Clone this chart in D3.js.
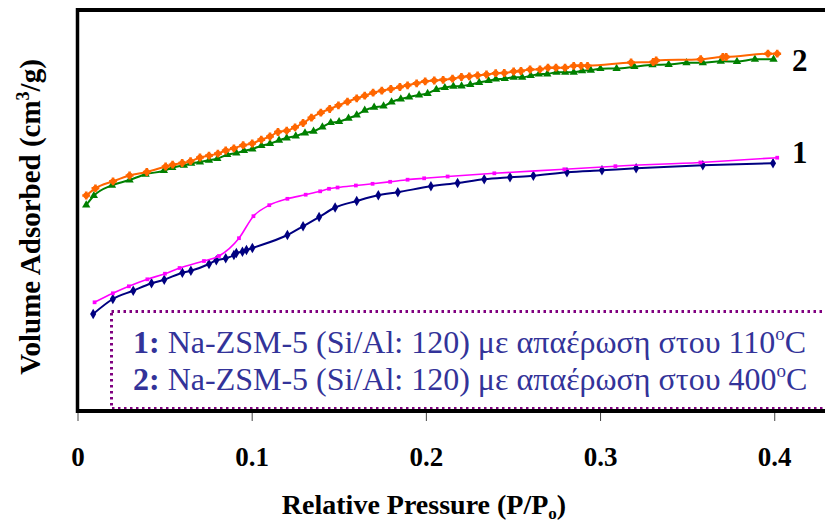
<!DOCTYPE html>
<html>
<head>
<meta charset="utf-8">
<script src="https://cdn.jsdelivr.net/npm/d3@7"></script>
<style>
  body { margin: 0; background: #fff; }
</style>
</head>
<body>
<div id="graph"></div>
<script>

// sample 1 (110 C) - adsorption branch
const pressureAds1 = [0.0090,0.0203,0.0320,0.0425,0.0498,0.0602,0.0651,0.0755,0.0797,0.0851,
  0.0898,0.0912,0.0947,0.0970,0.1004,0.1205,0.1295,0.1387,0.1479,0.1603,
  0.1727,0.1839,0.2029,0.2182,0.2335,0.2483,0.2617,0.2810,0.3011,0.3207,0.3590,0.3993];
const volumeAds1 = [96,111,119.3,126.7,130.3,137.3,139.3,146,149.7,151.7,
  155,157,158.3,160,162,175,183.7,193,202.5,209,
  214.7,217.8,223.7,227,230.7,232.7,234.3,237.7,239.7,241.7,244.7,246.7];

// sample 1 - desorption branch
const pressureDes1 = [0.0098,0.0203,0.0295,0.0401,0.0502,0.0586,0.0726,0.0812,0.0927,0.1010,
  0.1101,0.1205,0.1310,0.1393,0.1444,0.1493,0.1598,0.1694,0.1795,0.1895,
  0.1990,0.2125,0.2393,0.2795,0.3088,0.3576,0.4017];
const volumeDes1 = [107.7,116.7,123.7,130.7,136.3,142,149,154,171.8,193.8,
  204.8,211.2,215.3,218.7,221.2,222.5,224.5,226.2,228.2,230.3,
  231.7,233.5,236.7,240.7,243.8,247.5,252.3];

// sample 2 (400 C) - adsorption branch
const pressureAds2 = [0.0050,0.0094,0.0198,0.0299,0.0391,0.0496,0.0544,0.0611,0.0653,0.0703,
  0.0755,0.0803,0.0860,0.0912,0.0956,0.1004,0.1056,0.1105,0.1157,0.1201,
  0.1253,0.1306,0.1355,0.1406,0.1454,0.1502,0.1556,0.1603,0.1649,0.1703,
  0.1757,0.1803,0.1856,0.1904,0.1961,0.2010,0.2060,0.2109,0.2158,0.2205,
  0.2255,0.2306,0.2360,0.2402,0.2453,0.2504,0.2553,0.2602,0.2649,0.2697,
  0.2750,0.2800,0.2849,0.2897,0.2947,0.3002,0.3095,0.3197,0.3301,0.3394,
  0.3496,0.3590,0.3693,0.3786,0.3889,0.3996];
const volumeAds2 = [205,214.3,224.7,230,235.7,239.3,242.3,244.7,246.7,248,
  249.7,251.3,255.3,257,259.3,261,264.3,266.3,269.7,272,
  274,277,278.7,283,287.3,288.3,291.7,295,299.7,302.7,
  304,308,311,313,315,316.5,320.5,322.3,323.7,324,
  325.5,327.5,329.3,330.8,331.3,332.7,332.7,334.3,335.8,336,
  337.7,337.7,337.7,339.2,339.7,341.3,341.5,343.3,345.2,345.5,
  347.2,347.2,348.7,348.5,350.7,350.7];

// sample 2 - desorption branch
const pressureDes2 = [0.0050,0.0103,0.0204,0.0299,0.0398,0.0506,0.0546,0.0601,0.0649,0.0703,
  0.0755,0.0806,0.0851,0.0898,0.0951,0.1003,0.1055,0.1105,0.1151,0.1201,
  0.1249,0.1295,0.1343,0.1397,0.1448,0.1498,0.1550,0.1603,0.1649,0.1697,
  0.1747,0.1799,0.1851,0.1895,0.1947,0.1996,0.2048,0.2099,0.2153,0.2204,
  0.2249,0.2297,0.2348,0.2401,0.2450,0.2504,0.2546,0.2598,0.2655,0.2701,
  0.2747,0.2799,0.2849,0.2891,0.2928,0.3178,0.3305,0.3322,0.3578,0.3705,
  0.3724,0.3964,0.4017];
const volumeDes2 = [214.5,221.7,228.7,234.5,238,243.5,245.3,247,248.8,252.5,
  254.4,256.4,259.5,261.7,264.8,266.5,270.4,273.5,278,279.3,
  282.7,287,292.3,297.3,301,304.7,308.3,311.7,314.3,317.3,
  319.3,321,323,324.7,326.7,328.7,329.5,330.2,331.3,333,
  333.7,334.7,335.5,336.8,337,338.5,339,340.5,340.7,342.3,
  342.3,342.3,344.2,344.2,344.2,347.5,348,349.5,350.8,353,
  353,356.3,356.3];

const xTicks = [0, 0.1, 0.2, 0.3, 0.4];
const curveLabels = ["1", "2"];
const legendIds = ["1:", "2:"];
const legendTexts = [" Na-ZSM-5 (Si/Al: 120) με απαέρωση στου 110", " Na-ZSM-5 (Si/Al: 120) με απαέρωση στου 400"];

var width = 825, height = 526;
var serif = "'Liberation Serif', 'Times New Roman', 'DejaVu Serif', serif";

var svg = d3.select("#graph").append("svg")
    .attr("width", width)
    .attr("height", height)
    .style("display", "block");

var x = d3.scaleLinear().domain([0, 0.43]).range([77.5, 826.5]);
var y = d3.scaleLinear().domain([0, 400]).range([410, 10]);

// build series from the arrays
var series = [
  {p: pressureAds2, v: volumeAds2, color: "#008000", symbol: d3.symbolTriangle, size: 30, width: 2},
  {p: pressureDes2, v: volumeDes2, color: "#FF6600", symbol: d3.symbolCircle, size: 26, width: 2},
  {p: pressureAds1, v: volumeAds1, color: "#000080", symbol: d3.symbolDiamond, size: 32, width: 2},
  {p: pressureDes1, v: volumeDes1, color: "#FF00FF", symbol: d3.symbolSquare, size: 14, width: 1.6}
];

var line = d3.line()
    .x(function(d) { return x(d[0]); })
    .y(function(d) { return y(d[1]); })
    .curve(d3.curveMonotoneX);

series.forEach(function(s) {
  var pts = s.p.map(function(p, i) { return [p, s.v[i]]; });
  svg.append("path")
    .datum(pts)
    .attr("fill", "none")
    .attr("stroke", s.color)
    .attr("stroke-width", s.width)
    .attr("d", line);
  svg.selectAll(null)
    .data(pts)
    .enter().append("path")
    .attr("transform", function(d) { return "translate(" + x(d[0]) + "," + y(d[1]) + ")"; })
    .attr("d", d3.symbol().type(s.symbol).size(s.size))
    .attr("fill", s.color);
  if (s.symbol === d3.symbolCircle) {
    svg.selectAll(null)
      .data(pts)
      .enter().append("path")
      .attr("transform", function(d) { return "translate(" + x(d[0]) + "," + y(d[1]) + ")"; })
      .attr("d", d3.symbol().type(d3.symbolCross).size(34))
      .attr("fill", s.color);
  }
});

// x axis ticks and labels
var xAxis = svg.append("g")
    .attr("transform", "translate(0,412)")
    .call(d3.axisBottom(x).tickValues(xTicks).tickSize(9)
      .tickFormat(function(d) { return d === 0 ? "0" : d3.format(".1f")(d); }));
xAxis.select(".domain").remove();
xAxis.selectAll(".tick line").attr("stroke", "#444").attr("stroke-width", 1);
xAxis.selectAll(".tick text")
    .attr("y", 54)
    .attr("dy", null)
    .attr("fill", "#000")
    .style("font-family", serif)
    .style("font-weight", "bold")
    .style("font-size", "27px");

// legend box (dotted, runs off the right edge)
svg.append("rect")
    .attr("x", 111.5)
    .attr("y", 311.5)
    .attr("width", 760)
    .attr("height", 97)
    .attr("fill", "#fff")
    .attr("stroke", "#800080")
    .attr("stroke-width", 3)
    .attr("stroke-dasharray", "2.5,3.5");

legendTexts.forEach(function(t, i) {
  var txt = svg.append("text")
      .attr("x", 133)
      .attr("y", 353 + i * 37)
      .attr("fill", "#333399")
      .style("font-family", serif)
      .style("font-size", "32px");
  txt.append("tspan").style("font-weight", "bold").text(legendIds[i]);
  txt.append("tspan").text(t);
  txt.append("tspan").attr("dy", -13).style("font-size", "19px").text("o");
  txt.append("tspan").attr("dy", 13).text("C");
});

// frame: left, top, bottom
svg.append("line").attr("x1", 77.5).attr("y1", 8).attr("x2", 77.5).attr("y2", 413)
    .attr("stroke", "#000").attr("stroke-width", 3.5);
svg.append("line").attr("x1", 76).attr("y1", 10).attr("x2", 825).attr("y2", 10)
    .attr("stroke", "#000").attr("stroke-width", 4);
svg.append("line").attr("x1", 76).attr("y1", 411).attr("x2", 825).attr("y2", 411)
    .attr("stroke", "#000").attr("stroke-width", 4);

// curve numbers
svg.selectAll(".curveLabel")
    .data(curveLabels)
    .enter().append("text")
    .attr("class", "curveLabel")
    .attr("x", 792)
    .attr("y", function(d, i) { return i === 0 ? 163 : 71; })
    .text(function(d) { return d; })
    .style("font-family", serif)
    .style("font-weight", "bold")
    .style("font-size", "31px");

// axis titles
var xt = svg.append("text")
    .attr("x", 424)
    .attr("y", 514)
    .attr("text-anchor", "middle")
    .style("font-family", serif)
    .style("font-weight", "bold")
    .style("font-size", "28px");
xt.append("tspan").text("Relative Pressure (P/P");
xt.append("tspan").attr("dy", 5).style("font-size", "17px").text("o");
xt.append("tspan").attr("dy", -5).text(")");

var yt = svg.append("text")
    .attr("transform", "translate(40,217) rotate(-90)")
    .attr("text-anchor", "middle")
    .style("font-family", serif)
    .style("font-weight", "bold")
    .style("font-size", "29px");
yt.append("tspan").text("Volume Adsorbed (cm");
yt.append("tspan").attr("dy", -11).style("font-size", "18px").text("3");
yt.append("tspan").attr("dy", 11).text("/g)");

</script>
</body>
</html>
